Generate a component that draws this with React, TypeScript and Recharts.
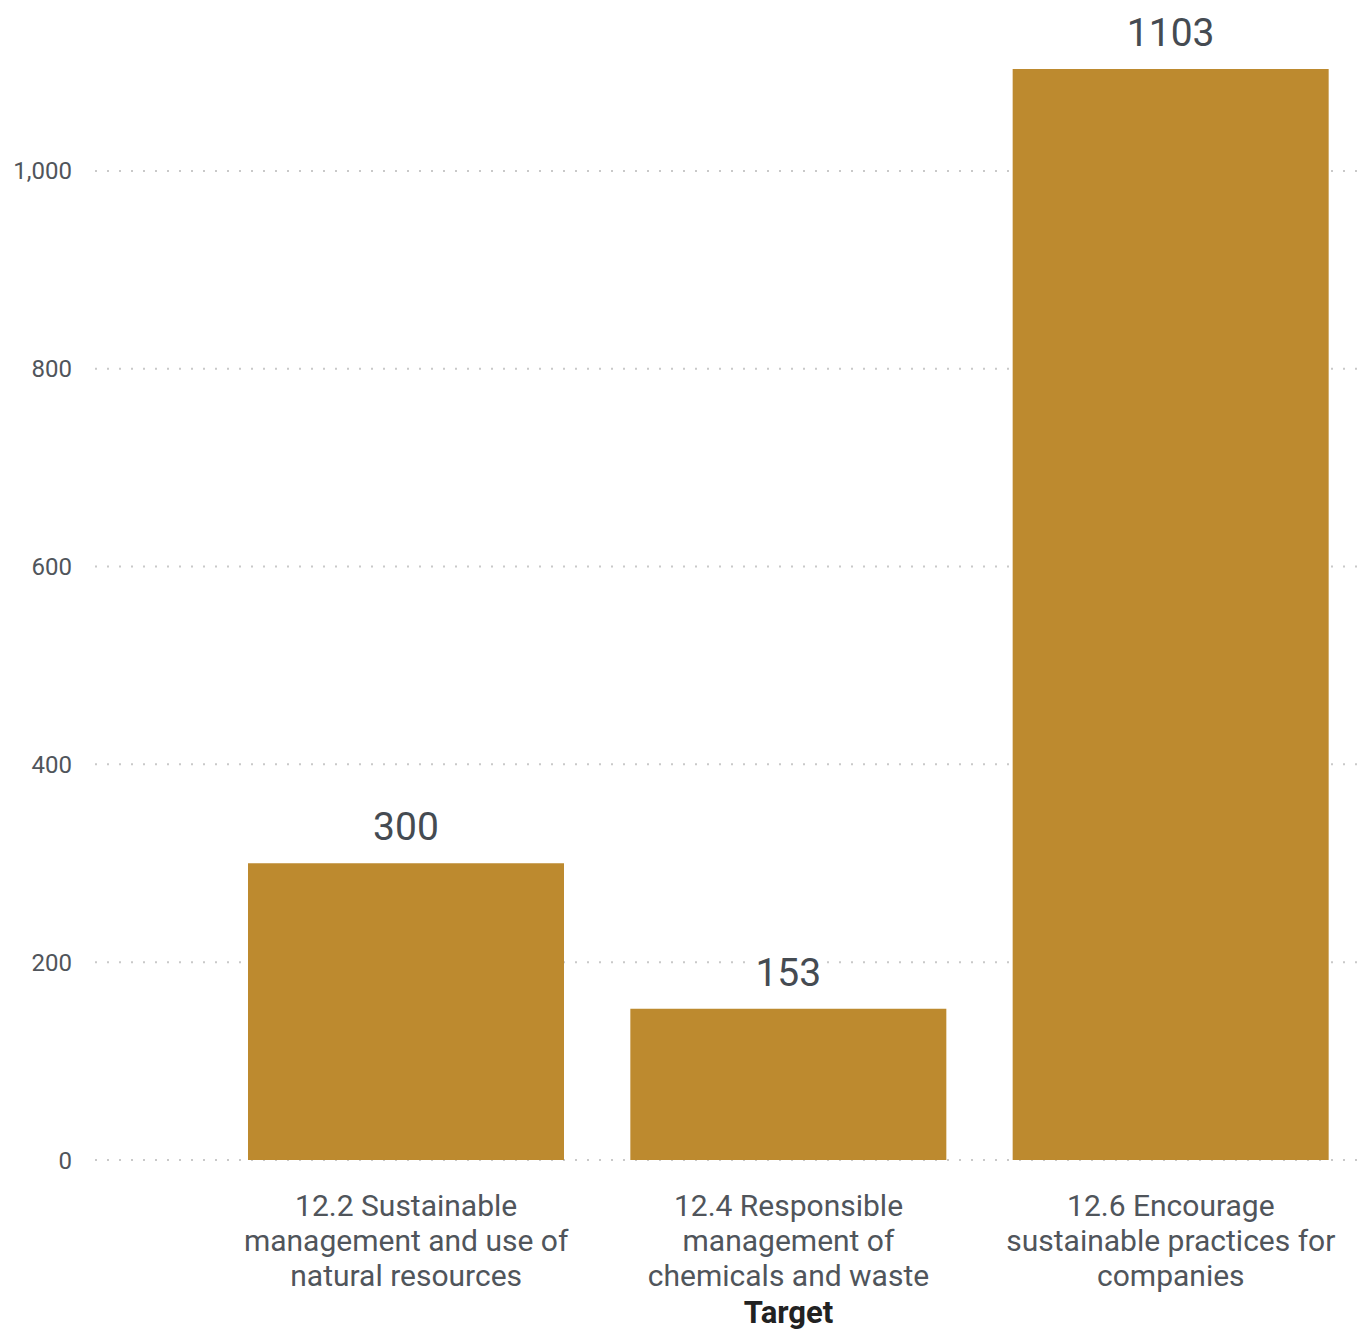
import { Bar, BarChart, CartesianGrid, LabelList, XAxis, YAxis } from "recharts";

const categories = [
  "12.2 Sustainable\nmanagement and use of\nnatural resources",
  "12.4 Responsible\nmanagement of\nchemicals and waste",
  "12.6 Encourage\nsustainable practices for\ncompanies",
];
const counts = [300, 153, 1103];
const yTicks = [0, 200, 400, 600, 800, 1000];

const data = categories.map((target, i) => ({ target, count: counts[i] }));

const FONT = "Roboto, 'DejaVu Sans', sans-serif";
const BAR = "#BD8A2F";
const TEXT = "#50555b";

function CategoryTick({ x, y, payload }: any) {
  const lines = String(payload.value).split("\n");
  return (
    <g>
      {lines.map((line: string, i: number) => (
        <text
          key={i}
          x={x}
          y={y + 37 + i * 35}
          textAnchor="middle"
          dominantBaseline="central"
          fontFamily={FONT}
          fontSize={30}
          fill={TEXT}
        >
          {line}
        </text>
      ))}
      {payload.index === 1 && (
        <text
          x={x}
          y={y + 144}
          textAnchor="middle"
          dominantBaseline="central"
          fontFamily={FONT}
          fontSize={31}
          fontWeight={700}
          fill="#222"
        >
          Target
        </text>
      )}
    </g>
  );
}

function ValueLabel({ x, y, width, value }: any) {
  return (
    <text
      x={x + width / 2}
      y={y - 36}
      textAnchor="middle"
      dominantBaseline="central"
      fontFamily={FONT}
      fontSize={39}
      fill="#454b52"
      stroke="#fff"
      strokeWidth={10}
      paintOrder="stroke"
    >
      {value}
    </text>
  );
}

export default function App() {
  return (
    <div style={{ position: "absolute", left: 0, top: 0, background: "#fff" }}>
      <BarChart
        width={1367}
        height={1330}
        data={data}
        margin={{ top: 69, right: 0, bottom: 0, left: 0 }}
      >
        <CartesianGrid
          vertical={false}
          syncWithTicks
          stroke="#c9c9c9"
          strokeWidth={2}
          strokeDasharray="2 10"
        />
        <XAxis
          dataKey="target"
          axisLine={false}
          tickLine={false}
          interval={0}
          padding={{ left: 120, right: 5 }}
          tick={<CategoryTick />}
          height={170}
        />
        <YAxis
          domain={[0, 1103]}
          ticks={yTicks}
          width={95}
          axisLine={false}
          tickLine={false}
          tickSize={0}
          tickMargin={23}
          tickFormatter={(v: number) => v.toLocaleString("en-US")}
          tick={{ fontFamily: FONT, fontSize: 24, fill: TEXT }}
        />
        <Bar dataKey="count" fill={BAR} barSize={316} isAnimationActive={false}>
          <LabelList dataKey="count" content={<ValueLabel />} />
        </Bar>
      </BarChart>
    </div>
  );
}
